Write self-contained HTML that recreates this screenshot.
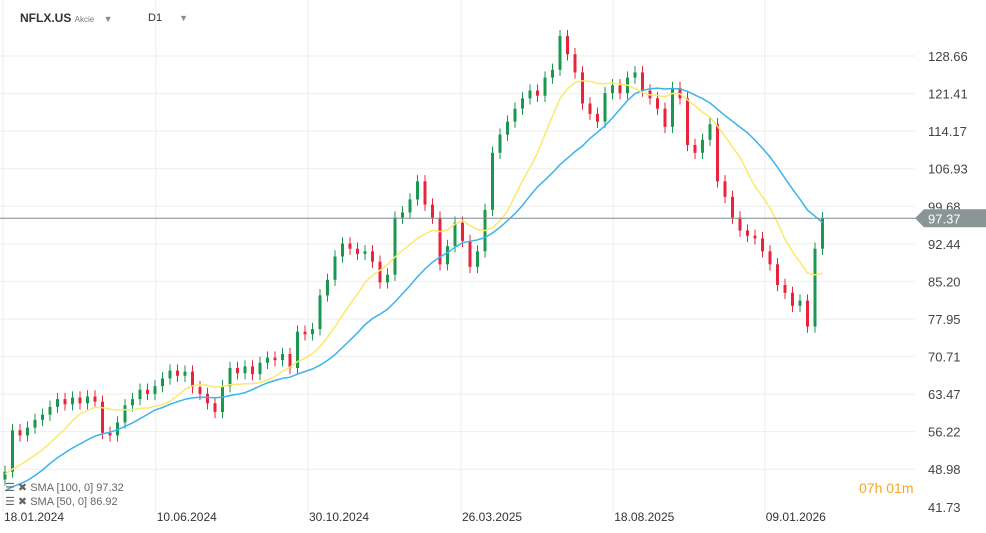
<!DOCTYPE html>
<html><head><meta charset="utf-8">
<style>
body{margin:0;background:#fff;font-family:"Liberation Sans",sans-serif;}
#c{position:relative;width:986px;height:533px;overflow:hidden;}
</style></head>
<body>
<div id="c">
<svg id="s" width="986" height="533" xmlns="http://www.w3.org/2000/svg"></svg>
</div>
<script>
const history = [43,41,44,44,40,38,36,40,42,45,46,47,48,47,49,49,48,49,48,47];
const closes = [48.5,56.5,55.5,57,58.5,59.5,61,62.5,61.5,62.8,61.7,63,62,56,55.5,58,61.3,62.5,64.3,63.5,65,66.5,68,67,67.8,64.8,63.5,61.7,60,65,68.5,67.5,68.8,67.3,69.5,70.5,70,71.2,68.5,75.5,75,76,82.5,85.5,90,92.5,91.5,90.5,91,89,85,86.5,97.5,98.5,101,104.5,100,97.5,88.5,92,96.5,93,88,91,99,110,113.5,116,118.5,120.5,122,121,124.5,126,132.5,129,125.5,119.5,117.5,116,121.5,123,121.5,124.5,125.5,122,120.5,118.5,115,122.5,120.5,111.5,110,112.5,115.5,104.5,101.5,97.5,95,94,93.5,91,88.5,84.5,83,80.5,81.5,76.5,91.5,97.37];
const yTicks = [128.66,121.41,114.17,106.93,99.68,92.44,85.20,77.95,70.71,63.47,56.22,48.98,41.73];
const xLabels = ["18.01.2024","10.06.2024","30.10.2024","26.03.2025","18.08.2025","09.01.2026"];
const xLabelIdx = [-0.27,20.1,40.4,60.8,81.1,101.3];
const lastPrice = 97.37;

const svg = document.getElementById('s');
const NS = 'http://www.w3.org/2000/svg';
const yS = p => 56 + (128.66 - p) * 5.186;
const xS = i => 5 + 7.5 * i;
function mk(tag, attrs, parent){const e=document.createElementNS(NS,tag);for(const k in attrs)e.setAttribute(k,attrs[k]);(parent||svg).appendChild(e);return e;}

const grid = mk('g',{});


yTicks.forEach(t=>{ if(t>42) mk('line',{x1:0,x2:915,y1:yS(t),y2:yS(t),stroke:'#eeeeee','stroke-width':1},grid); });
xLabelIdx.forEach(i=>{ mk('line',{x1:xS(i),x2:xS(i),y1:0,y2:512,stroke:'#eeeeee','stroke-width':1},grid); });

yTicks.forEach(t=>{
  const tx = mk('text',{x:928,y:yS(t)+5,'font-size':13,fill:'#444'});
  tx.textContent = t.toFixed(2);
  
  
});
xLabels.forEach((l,k)=>{
  const tx = mk('text',{x:xS(xLabelIdx[k])+1,y:521,'font-size':12,fill:'#333','text-anchor':'start'});
  tx.textContent = l;
  
  
});

const all = history.concat(closes);
const cg = mk('g',{});


closes.forEach((c,i)=>{
  const o = i===0 ? history[history.length-1] : closes[i-1];
  const up = c>=o;
  const col = up ? '#1a9850' : '#e8243c';
  const hi = Math.max(o,c)+1.2, lo = Math.min(o,c)-1.2;
  const x = xS(i);
  const g = mk('g',{},cg);
  
  
  mk('line',{x1:x,x2:x,y1:yS(hi),y2:yS(lo),stroke:col,'stroke-width':1},g);
  const y1 = yS(Math.max(o,c)), y2 = yS(Math.min(o,c));
  mk('rect',{x:x-1.5,y:y1,width:3,height:Math.max(1,y2-y1),fill:col},g);
});

function sma(n){
  const pts=[];
  closes.forEach((c,i)=>{
    const j = history.length+i;
    let s=0,k=0;
    for(let t=Math.max(0,j-n+1);t<=j;t++){s+=all[t];k++;}
    pts.push(xS(i).toFixed(1)+','+yS(s/k).toFixed(1));
  });
  return pts.join(' ');
}
const s100 = mk('polyline',{points:sma(20),fill:'none',stroke:'#3bb3ee','stroke-width':1.5});


const s50 = mk('polyline',{points:sma(10),fill:'none',stroke:'#fde86a','stroke-width':1.5});



const pl = mk('line',{x1:0,x2:918,y1:yS(lastPrice),y2:yS(lastPrice),stroke:'#7f8c8d','stroke-width':1});


const ly = yS(lastPrice);
const tag = mk('polygon',{points:`915,${ly} 924,${ly-9} 986,${ly-9} 986,${ly+9} 924,${ly+9}`,fill:'#8a9596'});


const tt = mk('text',{x:928,y:ly+5,'font-size':13,fill:'#fff'});
tt.textContent = lastPrice.toFixed(2);


</script>
<div style="position:absolute;left:20px;top:11px;font-size:12px;font-weight:bold;color:#333;">NFLX.US <span style="font-size:8px;font-weight:normal;color:#777;">Akcie</span> <span style="font-size:9px;color:#888;margin-left:6px;">▼</span></div>
<div style="position:absolute;left:148px;top:12px;font-size:11px;color:#333;">D1 <span style="font-size:9px;color:#888;margin-left:14px;">▼</span></div>
<div style="position:absolute;left:5px;top:481px;font-size:11px;color:#666;">☰ ✖ SMA [100, 0] 97.32</div>
<div style="position:absolute;left:5px;top:495px;font-size:11px;color:#666;">☰ ✖ SMA [50, 0] 86.92</div>
<div style="position:absolute;left:859px;top:480px;font-size:14px;color:#f5a623;">07h 01m</div>
</body></html>
